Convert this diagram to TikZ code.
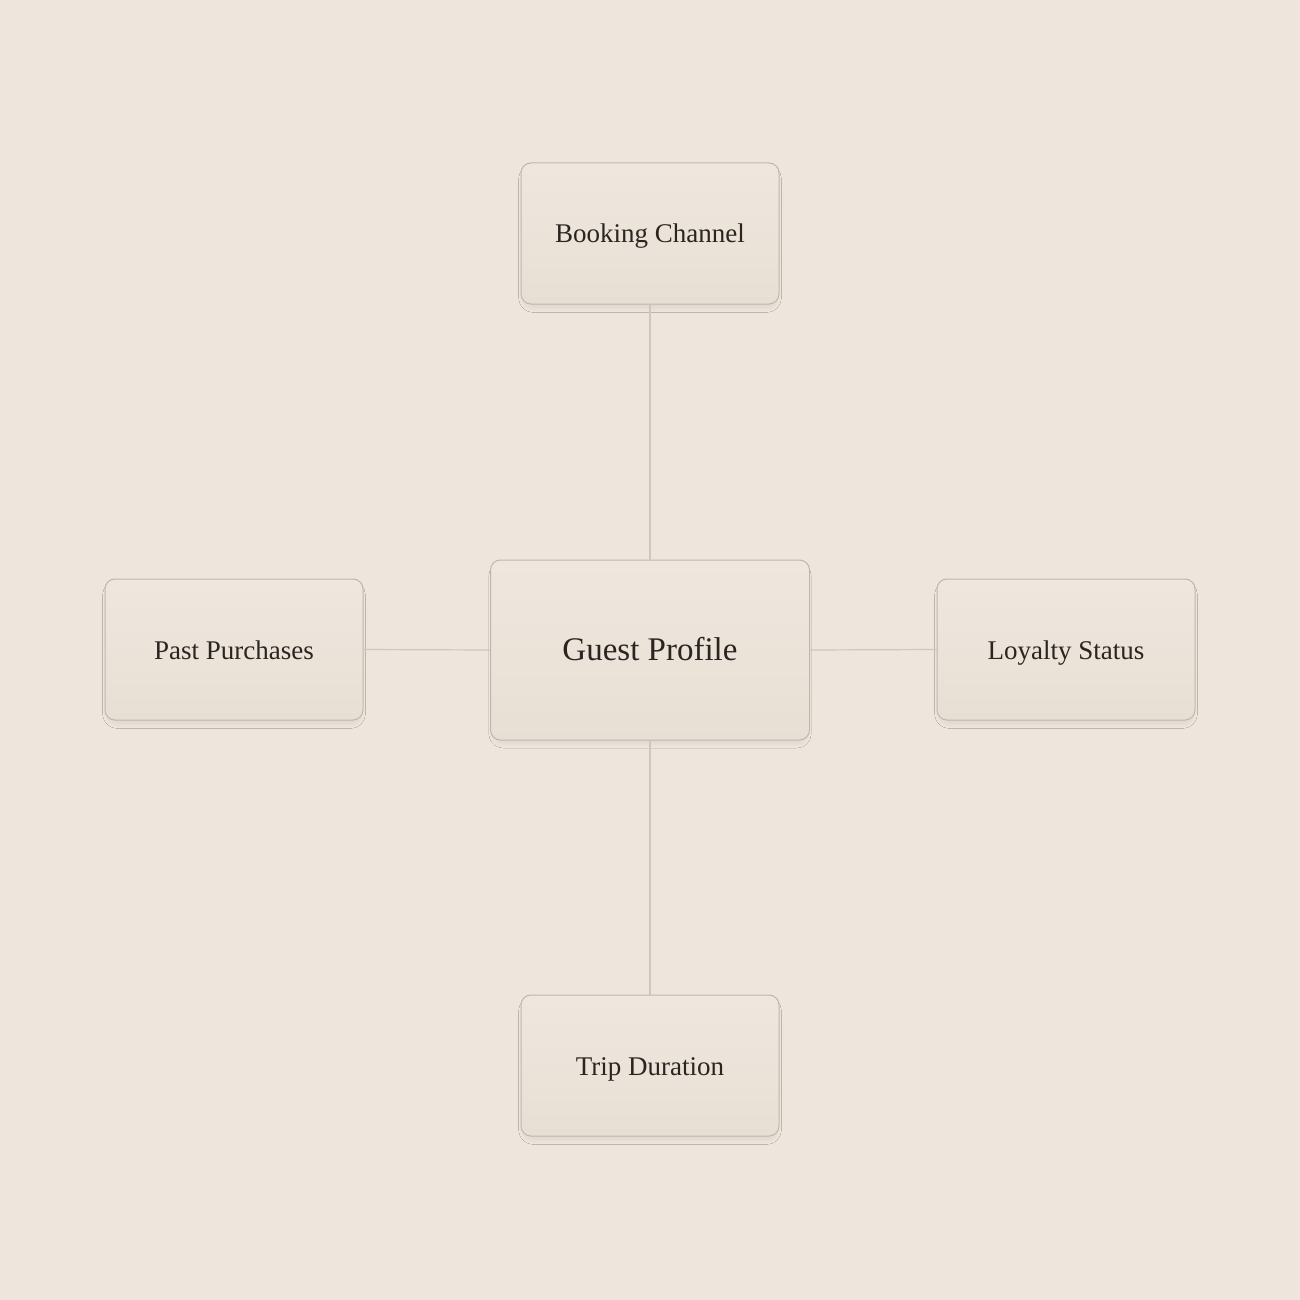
\documentclass[tikz,border=0pt]{standalone}
\usepackage{fontspec}
\setmainfont{Liberation Serif}
\usetikzlibrary{shadows.blur}
\definecolor{bg}{HTML}{EEE5DC}
\definecolor{boxtop}{HTML}{EFE7DE}
\definecolor{boxbot}{HTML}{E8DFD4}
\definecolor{boxline}{HTML}{BFB7AE}
\definecolor{conn}{HTML}{CFC6BC}
\definecolor{ink}{HTML}{2A2521}
\begin{document}
\begin{tikzpicture}[x=1bp,y=-1bp,
  card/.style={draw=boxline, line width=1bp, rounded corners=10bp,
    top color=boxtop, bottom color=boxbot, text=ink,
    minimum width=258bp, minimum height=141bp, inner sep=0pt,
    text height=19bp, text depth=0bp,
    font=\fontsize{27bp}{30bp}\selectfont,
    blur shadow={shadow xshift=0bp, shadow yshift=-5bp, shadow scale=0.98, shadow blur radius=5bp, shadow opacity=7, shadow blur steps=10}},
  hub/.style={card, minimum width=319bp, minimum height=180bp, text height=21bp,
    font=\fontsize{33bp}{36bp}\selectfont},
  link/.style={draw=conn, line width=1.2bp}]
\fill[bg] (0,0) rectangle (1300,1300);
\useasboundingbox (0,0) rectangle (1300,1300);
\node[hub] (gp) at (650,650) {Guest Profile};
\node[card] (bc) at (650,233.5) {Booking Channel};
\node[card] (pp) at (234,649.5) {Past Purchases};
\node[card] (ls) at (1066,649.5) {Loyalty Status};
\node[card] (td) at (650,1065.5) {Trip Duration};
\draw[link] (gp.north) -- (bc.south);
\draw[link] (gp.south) -- (td.north);
\draw[link] (gp.west) -- (pp.east);
\draw[link] (gp.east) -- (ls.west);
\end{tikzpicture}
\end{document}
